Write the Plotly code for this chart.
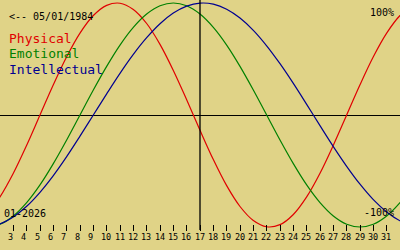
import plotly.graph_objects as go

# Days of the month shown (January 2026)
days = list(range(1, 34))
tick_days = list(range(3, 32))
today = 17

physical = [-0.888, -0.731, -0.520, -0.270, 0.000, 0.270, 0.520, 0.731, 0.888, 0.979,
            0.998, 0.942, 0.817, 0.631, 0.398, 0.136, -0.136, -0.398, -0.631, -0.817,
            -0.942, -0.998, -0.979, -0.888, -0.731, -0.520, -0.270, 0.000, 0.270, 0.520,
            0.731, 0.888, 0.979]
emotional = [-1.000, -0.975, -0.901, -0.782, -0.624, -0.434, -0.223, 0.000, 0.223, 0.434,
             0.624, 0.782, 0.901, 0.975, 1.000, 0.975, 0.901, 0.782, 0.624, 0.434,
             0.223, 0.000, -0.223, -0.434, -0.624, -0.782, -0.901, -0.975, -1.000, -0.975,
             -0.901, -0.782, -0.624]
intellectual = [-0.999, -0.972, -0.910, -0.815, -0.690, -0.541, -0.372, -0.189, 0.000, 0.189,
                0.372, 0.541, 0.690, 0.815, 0.910, 0.972, 0.999, 0.990, 0.945, 0.866,
                0.756, 0.618, 0.458, 0.282, 0.095, -0.095, -0.282, -0.458, -0.618, -0.756,
                -0.866, -0.945, -0.990]

series_names = ["Physical", "Emotional", "Intellectual"]
series_colors = ["#e00000", "#008000", "#000090"]
series_values = [physical, emotional, intellectual]

W, H = 400, 250
BG = "#e0d387"
FONT = "DejaVu Sans Mono"

fig = go.Figure()
for name, col, vals in zip(series_names, series_colors, series_values):
    fig.add_trace(go.Scatter(x=days, y=vals, mode="lines", name=name,
                             line=dict(color=col, width=1.2, shape="spline"),
                             hoverinfo="skip"))

def px_x(p):
    return p / W

def px_y(p):
    return 1 - p / H

annotations = []
# legend-like labels
for i, (name, col) in enumerate(zip(series_names, series_colors)):
    annotations.append(dict(x=px_x(9), y=px_y(38 + 15.5 * i), xref="paper", yref="paper",
                            text=name, showarrow=False, xanchor="left", yanchor="middle",
                            font=dict(family=FONT, size=13, color=col),
                            borderpad=0, borderwidth=0))
annotations.append(dict(x=px_x(9), y=px_y(16), xref="paper", yref="paper",
                        text="<-- 05/01/1984", showarrow=False, xanchor="left", yanchor="middle",
                        font=dict(family=FONT, size=10, color="black"), borderpad=0, borderwidth=0))
annotations.append(dict(x=px_x(394), y=px_y(12.5), xref="paper", yref="paper",
                        text="100%", showarrow=False, xanchor="right", yanchor="middle",
                        font=dict(family=FONT, size=10, color="black"), borderpad=0, borderwidth=0))
annotations.append(dict(x=px_x(394), y=px_y(212.5), xref="paper", yref="paper",
                        text="-100%", showarrow=False, xanchor="right", yanchor="middle",
                        font=dict(family=FONT, size=10, color="black"), borderpad=0, borderwidth=0))
annotations.append(dict(x=px_x(4), y=px_y(213), xref="paper", yref="paper",
                        text="01-2026", showarrow=False, xanchor="left", yanchor="middle",
                        font=dict(family=FONT, size=10, color="black"), borderpad=0, borderwidth=0))
# tick labels
for d in tick_days:
    annotations.append(dict(x=d, y=px_y(237), xref="x", yref="paper", text=str(d),
                            showarrow=False, xanchor="left", yanchor="middle", xshift=-5.5,
                            font=dict(family=FONT, size=8.5, color="black"),
                            borderpad=0, borderwidth=0))

fig.update_layout(
    width=W, height=H,
    margin=dict(l=0, r=0, t=0, b=0),
    paper_bgcolor=BG, plot_bgcolor=BG,
    showlegend=False,
    xaxis=dict(range=[2, 32], tickvals=tick_days, ticks="outside", ticklen=6,
               tickcolor="black", tickwidth=1, showticklabels=False,
               showgrid=False, zeroline=False, showline=False,
               anchor="free", position=(H - 224) / H, fixedrange=True),
    yaxis=dict(range=[-(H - 115) / 112, 115 / 112], showticklabels=False, ticks="",
               showgrid=False, zeroline=True, zerolinecolor="black", zerolinewidth=1,
               fixedrange=True),
    annotations=annotations,
    shapes=[dict(type="line", xref="x", yref="paper", x0=today, x1=today,
                 y0=(H - 230) / H, y1=1, line=dict(color="black", width=1.3))],
)

fig.write_html("out.html", config={"displayModeBar": False})
